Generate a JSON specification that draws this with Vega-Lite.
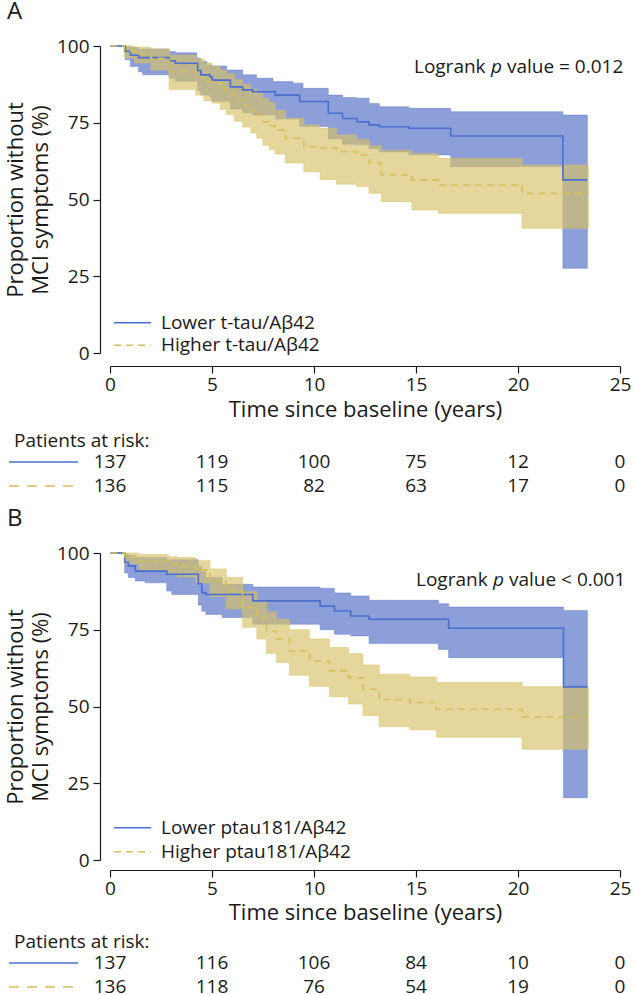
{
  "$schema": "https://vega.github.io/schema/vega-lite/v6.json",
  "background": "white",
  "padding": {"left": 4, "top": 0, "right": 0, "bottom": 0},
  "config": {
    "font": "Open Sans",
    "view": {"stroke": null},
    "axis": {"grid": false, "domainColor": "#1a1a1a", "tickColor": "#1a1a1a", "labelColor": "#1a1a1a", "titleColor": "#1a1a1a", "labelFontSize": 19, "titleFontSize": 22, "titleFontWeight": "normal", "domainWidth": 1.2, "tickWidth": 1.2},
    "legend": {"labelColor": "#1a1a1a", "labelFontSize": 19, "labelLimit": 400},
    "title": {"color": "#1a1a1a", "fontWeight": "normal"},
    "text": {"color": "#1a1a1a"}
  },
  "datasets": {
    "km": [
      {"p":"A","g":"Lower t-tau/Aβ42","t":0,"est":100,"lo":100,"hi":100},
      {"p":"A","g":"Lower t-tau/Aβ42","t":0.75,"est":98.3,"lo":95.5,"hi":99.8},
      {"p":"A","g":"Lower t-tau/Aβ42","t":1.0,"est":97,"lo":93.3,"hi":99.5},
      {"p":"A","g":"Lower t-tau/Aβ42","t":1.4,"est":96.2,"lo":91.6,"hi":99},
      {"p":"A","g":"Lower t-tau/Aβ42","t":1.6,"est":96.2,"lo":90.6,"hi":99},
      {"p":"A","g":"Lower t-tau/Aβ42","t":2.9,"est":95.2,"lo":89.5,"hi":98.2},
      {"p":"A","g":"Lower t-tau/Aβ42","t":3.2,"est":94.4,"lo":88.5,"hi":97.8},
      {"p":"A","g":"Lower t-tau/Aβ42","t":4.25,"est":94.4,"lo":88.5,"hi":96},
      {"p":"A","g":"Lower t-tau/Aβ42","t":4.3,"est":92,"lo":85.5,"hi":96},
      {"p":"A","g":"Lower t-tau/Aβ42","t":4.45,"est":90.6,"lo":84,"hi":95},
      {"p":"A","g":"Lower t-tau/Aβ42","t":4.74,"est":90.6,"lo":84,"hi":93.8},
      {"p":"A","g":"Lower t-tau/Aβ42","t":4.9,"est":90,"lo":83.3,"hi":93.8},
      {"p":"A","g":"Lower t-tau/Aβ42","t":5.0,"est":88.9,"lo":82,"hi":93.5},
      {"p":"A","g":"Lower t-tau/Aβ42","t":5.71,"est":88.9,"lo":82,"hi":92.2},
      {"p":"A","g":"Lower t-tau/Aβ42","t":5.9,"est":86.7,"lo":79.5,"hi":92.2},
      {"p":"A","g":"Lower t-tau/Aβ42","t":6.5,"est":85.7,"lo":78.3,"hi":90.6},
      {"p":"A","g":"Lower t-tau/Aβ42","t":7.0,"est":85.1,"lo":77.5,"hi":90.6},
      {"p":"A","g":"Lower t-tau/Aβ42","t":7.18,"est":85.1,"lo":77.5,"hi":89.5},
      {"p":"A","g":"Lower t-tau/Aβ42","t":7.99,"est":85.1,"lo":77.5,"hi":88.4},
      {"p":"A","g":"Lower t-tau/Aβ42","t":8.1,"est":84,"lo":76.2,"hi":88.4},
      {"p":"A","g":"Lower t-tau/Aβ42","t":8.97,"est":84,"lo":76.2,"hi":87.9},
      {"p":"A","g":"Lower t-tau/Aβ42","t":9.3,"est":81.9,"lo":73.8,"hi":87.9},
      {"p":"A","g":"Lower t-tau/Aβ42","t":9.46,"est":81.9,"lo":73.8,"hi":86.2},
      {"p":"A","g":"Lower t-tau/Aβ42","t":10.7,"est":78.1,"lo":69.8,"hi":84},
      {"p":"A","g":"Lower t-tau/Aβ42","t":11.4,"est":76.4,"lo":68,"hi":83.2},
      {"p":"A","g":"Lower t-tau/Aβ42","t":12.1,"est":75.3,"lo":67.8,"hi":83},
      {"p":"A","g":"Lower t-tau/Aβ42","t":12.7,"est":74.3,"lo":66.5,"hi":81.3},
      {"p":"A","g":"Lower t-tau/Aβ42","t":13.2,"est":73.7,"lo":65.5,"hi":80.2},
      {"p":"A","g":"Lower t-tau/Aβ42","t":14.65,"est":73.2,"lo":64.5,"hi":79.7},
      {"p":"A","g":"Lower t-tau/Aβ42","t":16.7,"est":70.7,"lo":60.7,"hi":78.6},
      {"p":"A","g":"Lower t-tau/Aβ42","t":22.2,"est":56.4,"lo":27.6,"hi":77.5},
      {"p":"A","g":"Lower t-tau/Aβ42","t":23.4,"est":56.4,"lo":27.6,"hi":77.5},

      {"p":"A","g":"Higher t-tau/Aβ42","t":0,"est":100,"lo":100,"hi":100},
      {"p":"A","g":"Higher t-tau/Aβ42","t":0.7,"est":98.5,"lo":96,"hi":100},
      {"p":"A","g":"Higher t-tau/Aβ42","t":1.2,"est":97.5,"lo":94.5,"hi":99.6},
      {"p":"A","g":"Higher t-tau/Aβ42","t":2.0,"est":96,"lo":92.2,"hi":99},
      {"p":"A","g":"Higher t-tau/Aβ42","t":2.9,"est":91.6,"lo":85.8,"hi":97},
      {"p":"A","g":"Higher t-tau/Aβ42","t":4.2,"est":90,"lo":84,"hi":95.8},
      {"p":"A","g":"Higher t-tau/Aβ42","t":4.6,"est":88.5,"lo":82.2,"hi":94.5},
      {"p":"A","g":"Higher t-tau/Aβ42","t":5.0,"est":87.9,"lo":81.4,"hi":93.5},
      {"p":"A","g":"Higher t-tau/Aβ42","t":5.4,"est":86,"lo":79.3,"hi":92.2},
      {"p":"A","g":"Higher t-tau/Aβ42","t":5.7,"est":84.6,"lo":77.7,"hi":91},
      {"p":"A","g":"Higher t-tau/Aβ42","t":6.1,"est":82.5,"lo":75.5,"hi":89},
      {"p":"A","g":"Higher t-tau/Aβ42","t":6.5,"est":80.8,"lo":73.6,"hi":87.5},
      {"p":"A","g":"Higher t-tau/Aβ42","t":6.9,"est":79,"lo":71.7,"hi":86},
      {"p":"A","g":"Higher t-tau/Aβ42","t":7.2,"est":77.5,"lo":70,"hi":84.5},
      {"p":"A","g":"Higher t-tau/Aβ42","t":7.5,"est":75.3,"lo":67.7,"hi":83},
      {"p":"A","g":"Higher t-tau/Aβ42","t":7.8,"est":74,"lo":66.3,"hi":81.5},
      {"p":"A","g":"Higher t-tau/Aβ42","t":8.1,"est":72.6,"lo":64.8,"hi":79},
      {"p":"A","g":"Higher t-tau/Aβ42","t":8.6,"est":69.9,"lo":61.9,"hi":76.5},
      {"p":"A","g":"Higher t-tau/Aβ42","t":9.5,"est":67.2,"lo":59,"hi":74.3},
      {"p":"A","g":"Higher t-tau/Aβ42","t":10.3,"est":66.7,"lo":56.5,"hi":73.2},
      {"p":"A","g":"Higher t-tau/Aβ42","t":11.1,"est":65.6,"lo":55,"hi":71},
      {"p":"A","g":"Higher t-tau/Aβ42","t":12.1,"est":64.5,"lo":54.2,"hi":69.5},
      {"p":"A","g":"Higher t-tau/Aβ42","t":12.7,"est":61.9,"lo":52,"hi":67.5},
      {"p":"A","g":"Higher t-tau/Aβ42","t":13.3,"est":58,"lo":49.3,"hi":66},
      {"p":"A","g":"Higher t-tau/Aβ42","t":14.8,"est":56.4,"lo":46.6,"hi":65},
      {"p":"A","g":"Higher t-tau/Aβ42","t":16.1,"est":54.7,"lo":45.5,"hi":63.4},
      {"p":"A","g":"Higher t-tau/Aβ42","t":20.2,"est":52,"lo":40.6,"hi":61.2},
      {"p":"A","g":"Higher t-tau/Aβ42","t":23.45,"est":52,"lo":40.6,"hi":61.2},

      {"p":"B","g":"Lower ptau181/Aβ42","t":0,"est":100,"lo":100,"hi":100},
      {"p":"B","g":"Lower ptau181/Aβ42","t":0.72,"est":97,"lo":93.5,"hi":99.5},
      {"p":"B","g":"Lower ptau181/Aβ42","t":0.9,"est":95.8,"lo":92,"hi":99.2},
      {"p":"B","g":"Lower ptau181/Aβ42","t":1.24,"est":94.1,"lo":90.9,"hi":98.5},
      {"p":"B","g":"Lower ptau181/Aβ42","t":1.72,"est":94.1,"lo":90.3,"hi":98.5},
      {"p":"B","g":"Lower ptau181/Aβ42","t":2.78,"est":93.1,"lo":87.6,"hi":97.8},
      {"p":"B","g":"Lower ptau181/Aβ42","t":3.03,"est":93.1,"lo":86.5,"hi":97.8},
      {"p":"B","g":"Lower ptau181/Aβ42","t":4.33,"est":90,"lo":83,"hi":95.5},
      {"p":"B","g":"Lower ptau181/Aβ42","t":4.5,"est":87.1,"lo":81,"hi":94},
      {"p":"B","g":"Lower ptau181/Aβ42","t":4.7,"est":86.5,"lo":80,"hi":92},
      {"p":"B","g":"Lower ptau181/Aβ42","t":5.5,"est":86.5,"lo":79,"hi":89.8},
      {"p":"B","g":"Lower ptau181/Aβ42","t":7.0,"est":84.4,"lo":76.8,"hi":88.9},
      {"p":"B","g":"Lower ptau181/Aβ42","t":10.3,"est":82.7,"lo":75,"hi":88.5},
      {"p":"B","g":"Lower ptau181/Aβ42","t":11.0,"est":81.1,"lo":73.5,"hi":87},
      {"p":"B","g":"Lower ptau181/Aβ42","t":11.8,"est":79.5,"lo":73,"hi":86},
      {"p":"B","g":"Lower ptau181/Aβ42","t":12.7,"est":78.4,"lo":70.5,"hi":84.6},
      {"p":"B","g":"Lower ptau181/Aβ42","t":16.1,"est":78.4,"lo":68.6,"hi":83.5},
      {"p":"B","g":"Lower ptau181/Aβ42","t":16.6,"est":75.5,"lo":65.9,"hi":82.4},
      {"p":"B","g":"Lower ptau181/Aβ42","t":22.23,"est":56.4,"lo":20.3,"hi":81.3},
      {"p":"B","g":"Lower ptau181/Aβ42","t":23.4,"est":56.4,"lo":20.3,"hi":81.3},

      {"p":"B","g":"Higher ptau181/Aβ42","t":0,"est":100,"lo":100,"hi":100},
      {"p":"B","g":"Higher ptau181/Aβ42","t":0.72,"est":98.8,"lo":96.5,"hi":100},
      {"p":"B","g":"Higher ptau181/Aβ42","t":1.4,"est":97.5,"lo":94.5,"hi":99.5},
      {"p":"B","g":"Higher ptau181/Aβ42","t":2.87,"est":96.5,"lo":93,"hi":98.8},
      {"p":"B","g":"Higher ptau181/Aβ42","t":3.3,"est":95.8,"lo":92.2,"hi":98.5},
      {"p":"B","g":"Higher ptau181/Aβ42","t":4.2,"est":94.5,"lo":90.2,"hi":97.5},
      {"p":"B","g":"Higher ptau181/Aβ42","t":4.9,"est":90.9,"lo":85.8,"hi":94.8},
      {"p":"B","g":"Higher ptau181/Aβ42","t":5.7,"est":87.6,"lo":81.8,"hi":92},
      {"p":"B","g":"Higher ptau181/Aβ42","t":6.5,"est":82.2,"lo":75.8,"hi":87.4},
      {"p":"B","g":"Higher ptau181/Aβ42","t":7.2,"est":78.9,"lo":72,"hi":84.6},
      {"p":"B","g":"Higher ptau181/Aβ42","t":7.67,"est":74.6,"lo":67.3,"hi":80.8},
      {"p":"B","g":"Higher ptau181/Aβ42","t":8.15,"est":71.9,"lo":64.3,"hi":78.4},
      {"p":"B","g":"Higher ptau181/Aβ42","t":8.8,"est":68.1,"lo":60.2,"hi":75},
      {"p":"B","g":"Higher ptau181/Aβ42","t":9.78,"est":64.8,"lo":56.6,"hi":72},
      {"p":"B","g":"Higher ptau181/Aβ42","t":10.76,"est":61.6,"lo":53.2,"hi":69.2},
      {"p":"B","g":"Higher ptau181/Aβ42","t":11.7,"est":59.4,"lo":50.8,"hi":67.2},
      {"p":"B","g":"Higher ptau181/Aβ42","t":12.4,"est":55.6,"lo":47,"hi":63.5},
      {"p":"B","g":"Higher ptau181/Aβ42","t":13.2,"est":52.3,"lo":43.5,"hi":60.5},
      {"p":"B","g":"Higher ptau181/Aβ42","t":14.7,"est":51.3,"lo":42.4,"hi":59.6},
      {"p":"B","g":"Higher ptau181/Aβ42","t":16.0,"est":49.1,"lo":40,"hi":57.8},
      {"p":"B","g":"Higher ptau181/Aβ42","t":20.2,"est":46.6,"lo":36.1,"hi":56.4},
      {"p":"B","g":"Higher ptau181/Aβ42","t":23.45,"est":46.6,"lo":36.1,"hi":56.4}
    ],
    "risk": [
      {"p":"A","g":"Lower t-tau/Aβ42","t":0,"n":137},
      {"p":"A","g":"Lower t-tau/Aβ42","t":5,"n":119},
      {"p":"A","g":"Lower t-tau/Aβ42","t":10,"n":100},
      {"p":"A","g":"Lower t-tau/Aβ42","t":15,"n":75},
      {"p":"A","g":"Lower t-tau/Aβ42","t":20,"n":12},
      {"p":"A","g":"Lower t-tau/Aβ42","t":25,"n":0},
      {"p":"A","g":"Higher t-tau/Aβ42","t":0,"n":136},
      {"p":"A","g":"Higher t-tau/Aβ42","t":5,"n":115},
      {"p":"A","g":"Higher t-tau/Aβ42","t":10,"n":82},
      {"p":"A","g":"Higher t-tau/Aβ42","t":15,"n":63},
      {"p":"A","g":"Higher t-tau/Aβ42","t":20,"n":17},
      {"p":"A","g":"Higher t-tau/Aβ42","t":25,"n":0},
      {"p":"B","g":"Lower ptau181/Aβ42","t":0,"n":137},
      {"p":"B","g":"Lower ptau181/Aβ42","t":5,"n":116},
      {"p":"B","g":"Lower ptau181/Aβ42","t":10,"n":106},
      {"p":"B","g":"Lower ptau181/Aβ42","t":15,"n":84},
      {"p":"B","g":"Lower ptau181/Aβ42","t":20,"n":10},
      {"p":"B","g":"Lower ptau181/Aβ42","t":25,"n":0},
      {"p":"B","g":"Higher ptau181/Aβ42","t":0,"n":136},
      {"p":"B","g":"Higher ptau181/Aβ42","t":5,"n":118},
      {"p":"B","g":"Higher ptau181/Aβ42","t":10,"n":76},
      {"p":"B","g":"Higher ptau181/Aβ42","t":15,"n":54},
      {"p":"B","g":"Higher ptau181/Aβ42","t":20,"n":19},
      {"p":"B","g":"Higher ptau181/Aβ42","t":25,"n":0}
    ]
  },
  "bounds": "flush",
  "spacing": 60,
  "resolve": {"scale": {"color": "independent", "strokeDash": "independent"}, "legend": {"color": "independent", "strokeDash": "independent"}},
  "vconcat": [
    {
      "width": 510,
      "height": 307,
      "title": {"text": "A", "anchor": "start", "frame": "group", "dx": -103, "fontSize": 24, "offset": -6, "baseline": "alphabetic"},
      "data": {"name": "km"},
      "encoding": {
        "x": {"field": "t", "type": "quantitative", "scale": {"domain": [0, 25], "nice": false},
              "axis": {"title": "Time since baseline (years)", "values": [0, 5, 10, 15, 20, 25], "offset": 13, "tickSize": 7, "labelPadding": 2, "titlePadding": 5, "labelFlush": false}}
      },
      "layer": [
        {
          "transform": [{"filter": "datum.p === 'A' && datum.g === 'Lower t-tau/Aβ42'"}],
          "mark": {"type": "area", "interpolate": "step-after", "fill": "#506cc5", "fillOpacity": 0.65, "stroke": "#506cc5", "strokeOpacity": 0.4, "strokeWidth": 1},
          "encoding": {
            "y": {"field": "lo", "type": "quantitative", "scale": {"domain": [0, 100], "nice": false},
                  "axis": {"title": ["Proportion without", "MCI symptoms (%)"], "values": [0, 25, 50, 75, 100], "offset": 10, "tickSize": 7, "labelPadding": 4, "titlePadding": 4, "titleLineHeight": 25}},
            "y2": {"field": "hi"}
          }
        },
        {
          "transform": [{"filter": "datum.p === 'A' && datum.g === 'Higher t-tau/Aβ42'"}],
          "mark": {"type": "area", "interpolate": "step-after", "fill": "#d7c266", "fillOpacity": 0.65, "stroke": "#d7c266", "strokeOpacity": 0.5, "strokeWidth": 1},
          "encoding": {"y": {"field": "lo", "type": "quantitative"}, "y2": {"field": "hi"}}
        },
        {
          "transform": [{"filter": "datum.p === 'A'"}],
          "mark": {"type": "line", "interpolate": "step-after", "strokeWidth": 1.6},
          "encoding": {
            "y": {"field": "est", "type": "quantitative"},
            "color": {"field": "g", "type": "nominal",
                      "scale": {"domain": ["Lower t-tau/Aβ42", "Higher t-tau/Aβ42"], "range": ["#4a6fd0", "#d6bf5c"]},
                      "legend": {"orient": "none", "legendX": 3, "legendY": 265.7, "direction": "vertical", "title": null, "symbolType": "stroke", "symbolSize": 1369, "symbolStrokeWidth": 1.6, "labelFontSize": 19, "labelOffset": 9, "clipHeight": 22, "rowPadding": 0.5, "padding": 0}},
            "strokeDash": {"field": "g", "type": "nominal",
                           "scale": {"domain": ["Lower t-tau/Aβ42", "Higher t-tau/Aβ42"], "range": [[1, 0], [7, 5]]}}
          }
        },
        {
          "transform": [{"filter": "datum.p === 'A' && datum.t === 0 && datum.g === 'Lower t-tau/Aβ42'"}],
          "mark": {"type": "text", "align": "left", "baseline": "middle", "fontSize": 19},
          "encoding": {"x": {"datum": 14.9}, "y": {"datum": 93.3}, "text": {"value": "Logrank"}}
        },
        {
          "transform": [{"filter": "datum.p === 'A' && datum.t === 0 && datum.g === 'Lower t-tau/Aβ42'"}],
          "mark": {"type": "text", "align": "left", "baseline": "middle", "fontSize": 19, "fontStyle": "italic", "dx": 77},
          "encoding": {"x": {"datum": 14.9}, "y": {"datum": 93.3}, "text": {"value": "p"}}
        },
        {
          "transform": [{"filter": "datum.p === 'A' && datum.t === 0 && datum.g === 'Lower t-tau/Aβ42'"}],
          "mark": {"type": "text", "align": "left", "baseline": "middle", "fontSize": 19, "dx": 93},
          "encoding": {"x": {"datum": 14.9}, "y": {"datum": 93.3}, "text": {"value": "value = 0.012"}}
        }
      ]
    },
    {
      "width": 510,
      "height": 80,
      "title": {"text": "Patients at risk:", "anchor": "start", "frame": "group", "dx": -96, "fontSize": 19, "offset": -53, "baseline": "alphabetic"},
      "data": {"name": "risk"},
      "transform": [{"filter": "datum.p === 'A'"}],
      "encoding": {
        "x": {"field": "t", "type": "quantitative", "scale": {"domain": [0, 25], "nice": false}, "axis": null},
        "y": {"field": "g", "type": "nominal", "scale": {"type": "point", "domain": ["Lower t-tau/Aβ42", "Higher t-tau/Aβ42"], "range": [49, 73], "padding": 0}, "axis": null}
      },
      "layer": [
        {
          "mark": {"type": "text", "fontSize": 19, "baseline": "middle"},
          "encoding": {"text": {"field": "n", "type": "quantitative"}}
        },
        {
          "transform": [{"filter": "datum.t === 0"}],
          "mark": {"type": "rule", "strokeWidth": 1.6},
          "encoding": {
            "x": {"datum": -4.95},
            "x2": {"datum": -1.57},
            "color": {"field": "g", "type": "nominal", "legend": null,
                      "scale": {"domain": ["Lower t-tau/Aβ42", "Higher t-tau/Aβ42"], "range": ["#4a6fd0", "#d6bf5c"]}},
            "strokeDash": {"field": "g", "type": "nominal", "legend": null,
                           "scale": {"domain": ["Lower t-tau/Aβ42", "Higher t-tau/Aβ42"], "range": [[1, 0], [10, 8]]}}
          }
        }
      ]
    },
    {
      "width": 510,
      "height": 307,
      "title": {"text": "B", "anchor": "start", "frame": "group", "dx": -103, "fontSize": 24, "offset": -6, "baseline": "alphabetic"},
      "data": {"name": "km"},
      "encoding": {
        "x": {"field": "t", "type": "quantitative", "scale": {"domain": [0, 25], "nice": false},
              "axis": {"title": "Time since baseline (years)", "values": [0, 5, 10, 15, 20, 25], "offset": 10, "tickSize": 7, "labelPadding": 2, "titlePadding": 4, "labelFlush": false}}
      },
      "layer": [
        {
          "transform": [{"filter": "datum.p === 'B' && datum.g === 'Lower ptau181/Aβ42'"}],
          "mark": {"type": "area", "interpolate": "step-after", "fill": "#506cc5", "fillOpacity": 0.65, "stroke": "#506cc5", "strokeOpacity": 0.4, "strokeWidth": 1},
          "encoding": {
            "y": {"field": "lo", "type": "quantitative", "scale": {"domain": [0, 100], "nice": false},
                  "axis": {"title": ["Proportion without", "MCI symptoms (%)"], "values": [0, 25, 50, 75, 100], "offset": 10, "tickSize": 7, "labelPadding": 4, "titlePadding": 4, "titleLineHeight": 25}},
            "y2": {"field": "hi"}
          }
        },
        {
          "transform": [{"filter": "datum.p === 'B' && datum.g === 'Higher ptau181/Aβ42'"}],
          "mark": {"type": "area", "interpolate": "step-after", "fill": "#d7c266", "fillOpacity": 0.65, "stroke": "#d7c266", "strokeOpacity": 0.5, "strokeWidth": 1},
          "encoding": {"y": {"field": "lo", "type": "quantitative"}, "y2": {"field": "hi"}}
        },
        {
          "transform": [{"filter": "datum.p === 'B'"}],
          "mark": {"type": "line", "interpolate": "step-after", "strokeWidth": 1.6},
          "encoding": {
            "y": {"field": "est", "type": "quantitative"},
            "color": {"field": "g", "type": "nominal",
                      "scale": {"domain": ["Lower ptau181/Aβ42", "Higher ptau181/Aβ42"], "range": ["#4a6fd0", "#d6bf5c"]},
                      "legend": {"orient": "none", "legendX": 3, "legendY": 263.7, "direction": "vertical", "title": null, "symbolType": "stroke", "symbolSize": 1369, "symbolStrokeWidth": 1.6, "labelFontSize": 19, "labelOffset": 9, "clipHeight": 22, "rowPadding": 2, "padding": 0}},
            "strokeDash": {"field": "g", "type": "nominal",
                           "scale": {"domain": ["Lower ptau181/Aβ42", "Higher ptau181/Aβ42"], "range": [[1, 0], [7, 5]]}}
          }
        },
        {
          "transform": [{"filter": "datum.p === 'B' && datum.t === 0 && datum.g === 'Lower ptau181/Aβ42'"}],
          "mark": {"type": "text", "align": "left", "baseline": "middle", "fontSize": 19},
          "encoding": {"x": {"datum": 15.0}, "y": {"datum": 91.1}, "text": {"value": "Logrank"}}
        },
        {
          "transform": [{"filter": "datum.p === 'B' && datum.t === 0 && datum.g === 'Lower ptau181/Aβ42'"}],
          "mark": {"type": "text", "align": "left", "baseline": "middle", "fontSize": 19, "fontStyle": "italic", "dx": 77},
          "encoding": {"x": {"datum": 15.0}, "y": {"datum": 91.1}, "text": {"value": "p"}}
        },
        {
          "transform": [{"filter": "datum.p === 'B' && datum.t === 0 && datum.g === 'Lower ptau181/Aβ42'"}],
          "mark": {"type": "text", "align": "left", "baseline": "middle", "fontSize": 19, "dx": 93},
          "encoding": {"x": {"datum": 15.0}, "y": {"datum": 91.1}, "text": {"value": "value < 0.001"}}
        }
      ]
    },
    {
      "width": 510,
      "height": 80,
      "title": {"text": "Patients at risk:", "anchor": "start", "frame": "group", "dx": -96, "fontSize": 19, "offset": -47, "baseline": "alphabetic"},
      "data": {"name": "risk"},
      "transform": [{"filter": "datum.p === 'B'"}],
      "encoding": {
        "x": {"field": "t", "type": "quantitative", "scale": {"domain": [0, 25], "nice": false}, "axis": null},
        "y": {"field": "g", "type": "nominal", "scale": {"type": "point", "domain": ["Lower ptau181/Aβ42", "Higher ptau181/Aβ42"], "range": [43, 67], "padding": 0}, "axis": null}
      },
      "layer": [
        {
          "mark": {"type": "text", "fontSize": 19, "baseline": "middle"},
          "encoding": {"text": {"field": "n", "type": "quantitative"}}
        },
        {
          "transform": [{"filter": "datum.t === 0"}],
          "mark": {"type": "rule", "strokeWidth": 1.6},
          "encoding": {
            "x": {"datum": -4.95},
            "x2": {"datum": -1.57},
            "color": {"field": "g", "type": "nominal", "legend": null,
                      "scale": {"domain": ["Lower ptau181/Aβ42", "Higher ptau181/Aβ42"], "range": ["#4a6fd0", "#d6bf5c"]}},
            "strokeDash": {"field": "g", "type": "nominal", "legend": null,
                           "scale": {"domain": ["Lower ptau181/Aβ42", "Higher ptau181/Aβ42"], "range": [[1, 0], [10, 8]]}}
          }
        }
      ]
    }
  ]
}
